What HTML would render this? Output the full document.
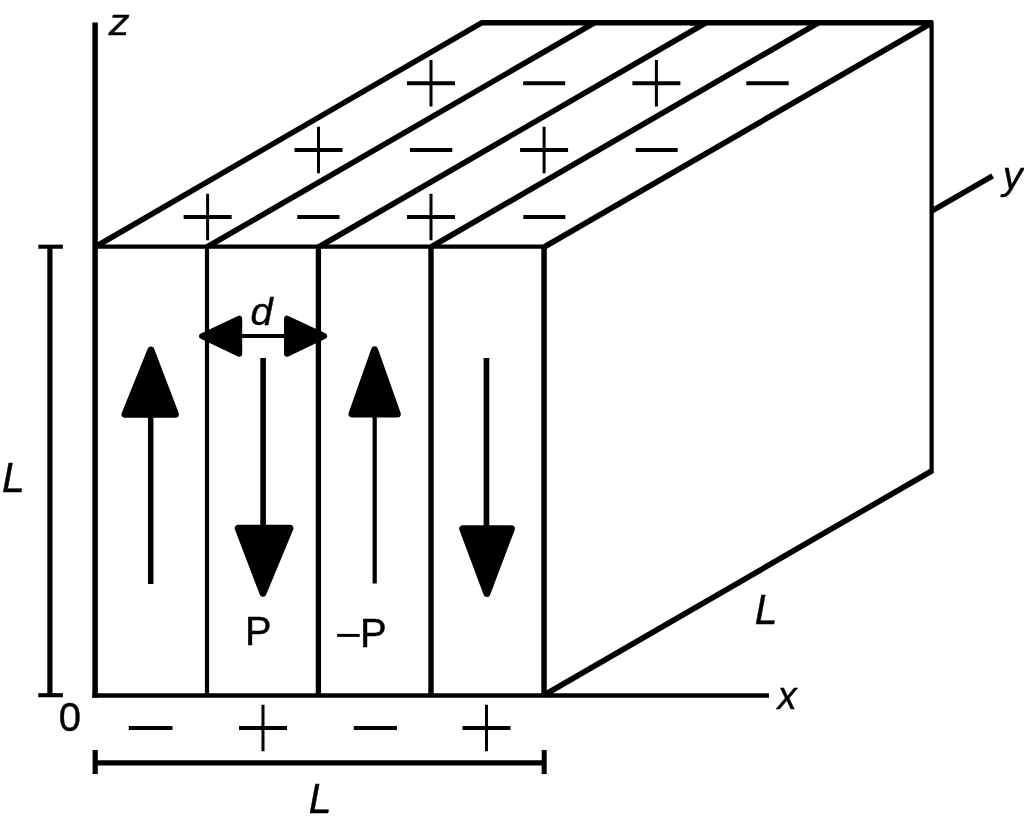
<!DOCTYPE html>
<html>
<head>
<meta charset="utf-8">
<style>
html,body{margin:0;padding:0;background:#fff;}
body{width:1024px;height:822px;overflow:hidden;}
svg{display:block;will-change:transform;}
text{font-family:"Liberation Sans", sans-serif;fill:#000;}
.it{font-style:italic;}
</style>
</head>
<body>
<svg width="1024" height="822" viewBox="0 0 1024 822">
<g stroke="#000" fill="none" stroke-linecap="butt">
  <!-- z axis -->
  <line x1="95.1" y1="22.5" x2="95.1" y2="697.7" stroke-width="5.5"/>
  <!-- front face top & bottom edges -->
  <line x1="95" y1="246.7" x2="544" y2="246.7" stroke-width="4.2"/>
  <line x1="92.4" y1="695.5" x2="769" y2="695.5" stroke-width="4.4"/>
  <!-- front dividers -->
  <line x1="207" y1="247" x2="207" y2="695" stroke-width="4.2"/>
  <line x1="318.4" y1="247" x2="318.4" y2="695" stroke-width="5.3"/>
  <line x1="431" y1="247" x2="431" y2="695" stroke-width="5.4"/>
  <line x1="544.05" y1="247" x2="544.05" y2="695" stroke-width="5.5"/>
  <!-- top face -->
  <path d="M95 247L482 22.7L700 22.7" stroke-width="5.5" stroke-linejoin="round"/>
  <line x1="207" y1="247" x2="594" y2="23" stroke-width="5.6"/>
  <line x1="318.6" y1="247" x2="705.6" y2="23" stroke-width="5.6"/>
  <line x1="431" y1="247" x2="818" y2="23" stroke-width="5.6"/>
  <line x1="544.2" y1="247" x2="931.6" y2="23" stroke-width="5.6"/>
  <!-- right face -->
  <path d="M690 20H931.7A2 2 0 0 1 933.7 22V473.2H929.5V25.4H690Z" fill="#000" stroke="none"/>
  <line x1="544.2" y1="695" x2="931.6" y2="471" stroke-width="5.6"/>
  <!-- y axis -->
  <line x1="931.6" y1="211.2" x2="992.6" y2="175.9" stroke-width="5.6"/>
  <!-- L dim left -->
  <line x1="49.9" y1="247" x2="49.9" y2="695" stroke-width="5.2"/>
  <line x1="38.3" y1="246.7" x2="62.9" y2="246.7" stroke-width="4.1"/>
  <line x1="38.3" y1="695.2" x2="62.9" y2="695.2" stroke-width="4.1"/>
  <!-- L dim bottom -->
  <line x1="95" y1="762.9" x2="544" y2="762.9" stroke-width="5.2"/>
  <line x1="95.2" y1="750" x2="95.2" y2="774" stroke-width="5.2"/>
  <line x1="544.2" y1="750" x2="544.2" y2="774" stroke-width="5"/>
  <!-- d arrow shaft -->
  <line x1="240" y1="336" x2="287" y2="336" stroke-width="4"/>
  <!-- arrow shafts -->
  <line x1="150.7" y1="410" x2="150.7" y2="584" stroke-width="5.5"/>
  <line x1="263.1" y1="358" x2="263.1" y2="530" stroke-width="5.6"/>
  <line x1="374.7" y1="410" x2="374.7" y2="583.5" stroke-width="4.2"/>
  <line x1="486.45" y1="358" x2="486.45" y2="530" stroke-width="5.7"/>
</g>
<g fill="#000" stroke="#000" stroke-linejoin="round">
  <!-- d arrowheads -->
  <polygon stroke-width="6" points="202.1,336.1 239.2,318.7 239.2,353.8"/>
  <polygon stroke-width="6" points="324.05,336 287,318.7 287,353.8"/>
  <!-- big arrowheads -->
  <polygon stroke-width="7" points="150.9,350.1 125,414.3 175.4,414.3"/>
  <polygon stroke-width="7" points="263,593.25 238.2,528.2 290,528.2"/>
  <polygon stroke-width="7" points="374.6,349.9 352,413.9 397.3,413.9"/>
  <polygon stroke-width="7" points="486.9,593.45 462.7,528.75 511.4,528.75"/>
</g>
<g stroke="#000" fill="none">
  <path stroke-width="3.9" d="M183.6 217H231.6M407.0 217H455.0M294.5 150H342.5M520.1 150H568.1M407.0 83.3H455.0M632.4 83.3H680.4M239.0 728H287.0M462.5 728H510.5M297.3 217H339.5M523.3 217H565.3M409.9 150H452.3M635.7 150H677.7M523.2 83.3H565.2M746.3 83.3H788.7M128.8 728H172.5M353.8 728H397"/>
  <path stroke-width="3.0" d="M207.6 193.7V240.3M431 193.7V240.3M318.5 126.7V173.3M544.1 126.7V173.3M431 60.0V106.6M656.4 60.0V106.6M263 704.7V751.3M486.5 704.7V751.3"/>
  <path stroke-width="3.0" d="M337.1 635.4H359.7"/>
</g>
<g font-size="40" stroke="#000" stroke-width="0.4">
  <text class="it" transform="translate(108.7 34.8) scale(1.045 0.94)">z</text>
  <text class="it" transform="translate(777.4 709) scale(0.965 0.955)">x</text>
  <text class="it" transform="translate(1002.8 189) scale(1.0 0.98)">y</text>
  <text class="it" transform="translate(2.0 492) scale(1.02 1.04)">L</text>
  <text class="it" transform="translate(754.8 623.8) scale(1.02 1.04)">L</text>
  <text class="it" transform="translate(308.8 813.2) scale(1.02 1.04)">L</text>
  <text class="it" transform="translate(250.5 325) scale(1.0 0.97)">d</text>
  <text transform="translate(245 645.2) scale(0.995 1.04)">P</text>
  <text transform="translate(360.1 646.7) scale(1.0 1.036)">P</text>
  <text transform="translate(58.7 730.8) scale(1.0 1.03)">0</text>
</g>
</svg>
</body>
</html>
